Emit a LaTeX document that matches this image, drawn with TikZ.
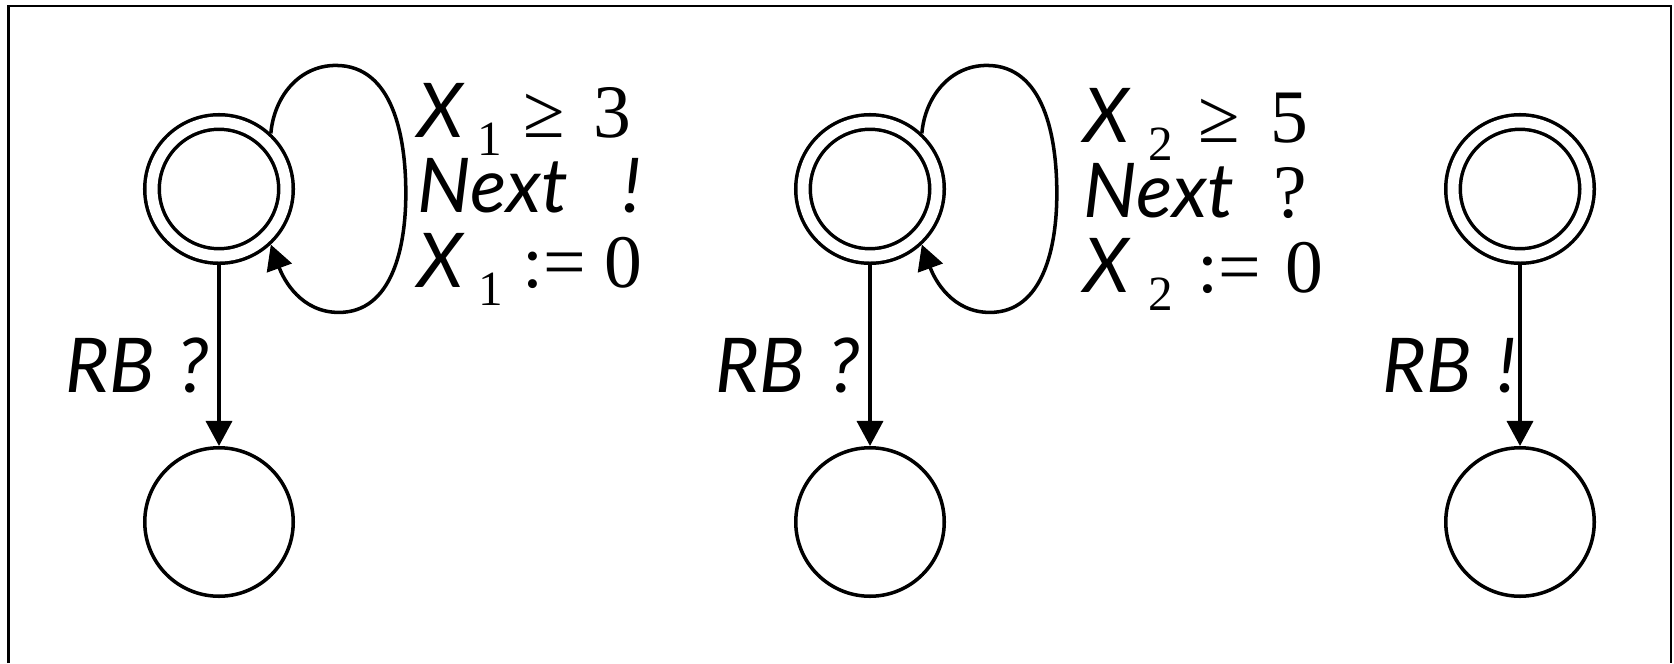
\documentclass[tikz,border=0pt]{standalone}
\usepackage{fontspec}
\setmainfont{Liberation Serif}
\setsansfont{Lato}
\usetikzlibrary{arrows.meta,positioning}
\newcommand{\sv}[1]{{\sffamily\itshape #1}}
\newcommand{\idx}[1]{\raisebox{-0.18cm}{\fontsize{14}{14}\selectfont #1}}
\tikzset{
  >={Triangle[length=2.5mm,width=2.6mm]},
  % lokationer
  loc/.style={circle,draw,line width=1pt,minimum size=14.85mm,inner sep=0pt},
  initloc/.style={loc,double,double distance=1.1mm,minimum size=13.4mm,outer sep=0.9mm},
  edg/.style={->,line width=1pt},
  grd/.style={anchor=base west,inner sep=0pt,font=\fontsize{21.5}{21.5}\selectfont},
}
\begin{document}
\begin{tikzpicture}
  \useasboundingbox (0,0) rectangle (16.74,6.63);
  \draw[line width=0.75pt] (0.083,0) -- (0.083,6.57) -- (16.71,6.57) -- (16.71,0);
  \node[initloc] (u1) at (2.19,4.74) {};
  \node[loc] (d1) at (2.19,1.41) {};
  \node[initloc] (u2) at (8.70,4.74) {};
  \node[loc] (d2) at (8.70,1.41) {};
  \node[initloc] (u3) at (15.20,4.74) {};
  \node[loc] (d3) at (15.20,1.41) {};
  \draw[edg] (u1) -- (d1);
  \draw[edg] (u2) -- (d2);
  \draw[edg] (u3) -- (d3);
  \draw[edg] (u1.47) to[out=85,in=180] ++(0.65,0.68) to[out=0,in=90] ++(0.70,-1.28)
    to[out=-90,in=0] ++(-0.67,-1.19) to[out=180,in=-70] (u1.-47);
  \draw[edg] (u2.47) to[out=85,in=180] ++(0.65,0.68) to[out=0,in=90] ++(0.70,-1.28)
    to[out=-90,in=0] ++(-0.67,-1.19) to[out=180,in=-70] (u2.-47);
  % vakter
  \node[grd] (g1a) at (4.17,5.26) {\makebox[0.60cm][l]{\sv{X}}\makebox[0.46cm][l]{\idx{1}}\makebox[0.70cm][l]{≥}3};
  \node[grd] (g1b) at (4.17,4.51) {\makebox[2.05cm][l]{\sv{Next}}\sv{!}};
  \node[grd] (g1c) at (4.17,3.76) {\makebox[0.61cm][l]{\sv{X}}\makebox[0.44cm][l]{\idx{1}}\makebox[0.82cm][l]{:=}0};
  \node[grd] (g2a) at (10.83,5.21) {\makebox[0.65cm][l]{\sv{X}}\makebox[0.50cm][l]{\idx{2}}\makebox[0.72cm][l]{≥}5};
  \node[grd] (g2b) at (10.83,4.46) {\makebox[1.90cm][l]{\sv{Next}}?};
  \node[grd] (g2c) at (10.83,3.71) {\makebox[0.65cm][l]{\sv{X}}\makebox[0.49cm][l]{\idx{2}}\makebox[0.88cm][l]{:=}0};
  \node[grd] (r1) at (0.65,2.71) {\makebox[1.12cm][l]{\sv{RB}}\sv{?}};
  \node[grd] (r2) at (7.15,2.71) {\makebox[1.13cm][l]{\sv{RB}}\sv{?}};
  \node[grd] (r3) at (13.82,2.71) {\makebox[1.15cm][l]{\sv{RB}}\sv{!}};
\end{tikzpicture}
\end{document}
